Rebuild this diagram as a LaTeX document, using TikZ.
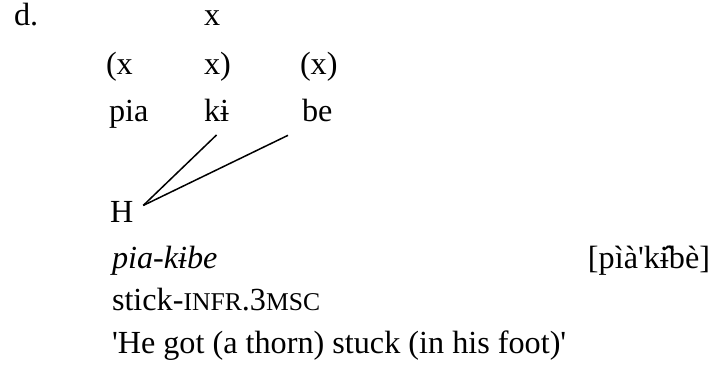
\documentclass[tikz,border=0pt]{standalone}
\usepackage{fontspec}
\setmainfont{Liberation Serif}
\usepackage{tikz}
\newcommand{\smallcap}[1]{{\fontsize{12.8pt}{15pt}\selectfont #1}}

\begin{document}
\begin{tikzpicture}[x=0.5pt, y=-0.5pt, every node/.style={font=\fontsize{16.1pt}{19pt}\selectfont, inner sep=0pt, outer sep=0pt},
  txt/.style={anchor=base west},
  assoc/.style={line width=0.75pt}]
  \useasboundingbox (0,0) rectangle (711,379);
  \node[txt] (lbl) at (14,26) {d.};
  \node[txt] (grid) at (204,26) {x};
  \node[txt] (ftL) at (106,75) {(x};
  \node[txt] (ftM) at (204,75) {x)};
  \node[txt] (ftR) at (300,75) {(x)};
  \node[txt] (pia) at (109,122) {pia};
  \node[txt] (ki) at (204,122) {kɨ};
  \node[txt] (be) at (302,122) {be};
  \node[txt] (hTone) at (110,222) {H};
  \node[txt] (form) at (112,268) {\itshape pia-kɨbe};
  \node[anchor=base east] (phon) at (710,268) {[pìà\textquotesingle kɨ̂bè]};
  \node[txt] (gloss) at (112,310) {stick-\smallcap{INFR}.3\smallcap{MSC}};
  \node[txt] (transl) at (112,353) {\textquotesingle He got (a thorn) stuck (in his foot)\textquotesingle};
  \draw[assoc] ([shift={(10,-6)}]hTone.east) -- ([shift={(0,13)}]ki.south);
  \draw[assoc] ([shift={(10,-6)}]hTone.east) -- ([shift={(-14,13)}]be.south west);
\end{tikzpicture}
\end{document}
